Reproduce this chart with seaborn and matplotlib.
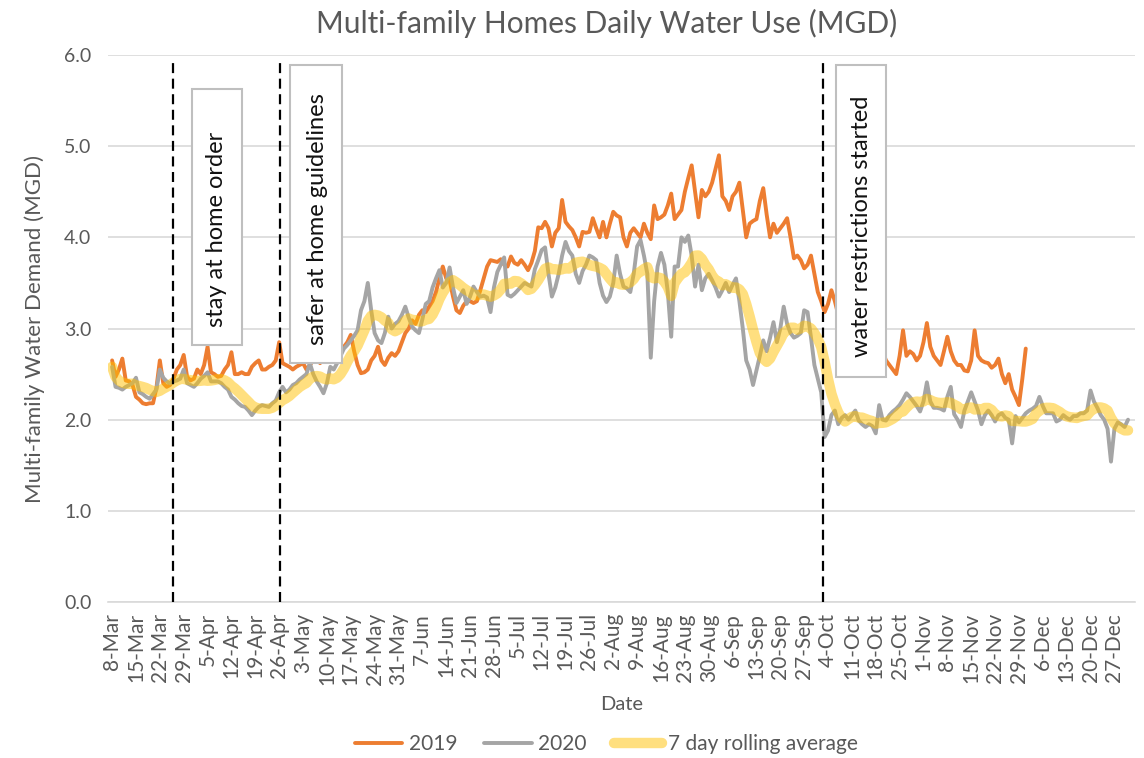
import pandas as pd
import matplotlib
matplotlib.use("Agg")
import matplotlib.pyplot as plt
from matplotlib.patches import Rectangle
import seaborn as sns

# daily values (MGD), both years on the same Mar 8 -> Dec axis
start = "2020-03-08"

mgd_2019 = [
    2.65, 2.47, 2.55, 2.67, 2.43, 2.42, 2.38,
    2.25, 2.22, 2.18, 2.17, 2.18, 2.18, 2.35,
    2.65, 2.40, 2.36, 2.38, 2.45, 2.55, 2.60,
    2.71, 2.47, 2.43, 2.45, 2.55, 2.50, 2.60,
    2.80, 2.52, 2.50, 2.47, 2.48, 2.55, 2.60,
    2.74, 2.50, 2.50, 2.52, 2.50, 2.50, 2.58,
    2.62, 2.65, 2.55, 2.55, 2.58, 2.60, 2.65,
    2.85, 2.62, 2.60, 2.58, 2.55, 2.58, 2.60,
    2.62, 2.55, 2.60, 2.65, 2.70, 2.62, 2.68,
    2.70, 2.65, 2.72, 2.75, 2.78, 2.80, 2.85,
    2.93, 2.75, 2.60, 2.51, 2.52, 2.55, 2.65,
    2.70, 2.80, 2.65, 2.60, 2.68, 2.73, 2.70,
    2.75, 2.85, 2.95, 3.00, 3.09, 3.05, 3.15,
    3.20, 3.18, 3.24, 3.30, 3.40, 3.55, 3.68,
    3.55, 3.53, 3.35, 3.20, 3.17, 3.25, 3.30,
    3.30, 3.28, 3.30, 3.42, 3.55, 3.68, 3.75,
    3.74, 3.73, 3.76, 3.70, 3.68, 3.79, 3.72,
    3.70, 3.75, 3.70, 3.64, 3.72, 3.85, 4.11,
    4.10, 4.17, 4.10, 3.90, 4.05, 4.10, 4.41,
    4.17, 4.12, 4.08, 4.00, 3.90, 4.06, 4.05,
    4.06, 4.21, 4.10, 4.00, 4.17, 4.00, 4.15,
    4.28, 4.24, 4.22, 4.00, 3.90, 4.05, 4.10,
    4.05, 4.00, 4.15, 4.05, 3.98, 4.35, 4.20,
    4.22, 4.25, 4.35, 4.48, 4.20, 4.25, 4.30,
    4.50, 4.65, 4.79, 4.50, 4.22, 4.52, 4.45,
    4.50, 4.60, 4.75, 4.90, 4.45, 4.40, 4.30,
    4.45, 4.50, 4.60, 4.30, 4.00, 4.15, 4.18,
    4.20, 4.40, 4.54, 4.25, 4.00, 4.15, 4.05,
    4.10, 4.15, 4.21, 4.00, 3.77, 3.80, 3.75,
    3.66, 3.70, 3.80, 3.60, 3.40, 3.30, 3.18,
    3.27, 3.42, 3.30, 3.15, 3.05, 2.95, 2.90,
    2.85, 2.80, 2.90, 2.80, 2.75, 2.85, 2.80,
    2.75, 2.80, 2.75, 2.65, 2.60, 2.55, 2.50,
    2.70, 2.98, 2.70, 2.75, 2.72, 2.65, 2.70,
    2.85, 3.06, 2.80, 2.70, 2.65, 2.60, 2.75,
    2.91, 2.75, 2.65, 2.60, 2.60, 2.54, 2.53,
    2.65, 2.98, 2.70, 2.65, 2.63, 2.62, 2.57,
    2.60, 2.67, 2.50, 2.40, 2.50, 2.33, 2.25,
    2.16, 2.45, 2.78,
]

mgd_2020 = [
    2.58, 2.36, 2.35, 2.33, 2.36, 2.38, 2.40,
    2.46, 2.30, 2.28, 2.25, 2.23, 2.28, 2.33,
    2.55, 2.46, 2.42, 2.40, 2.42, 2.43, 2.45,
    2.55, 2.40, 2.38, 2.36, 2.40, 2.45, 2.48,
    2.52, 2.42, 2.42, 2.42, 2.40, 2.36, 2.33,
    2.25, 2.22, 2.18, 2.15, 2.14, 2.10, 2.05,
    2.10, 2.14, 2.16, 2.15, 2.14, 2.18, 2.21,
    2.30, 2.36, 2.30, 2.33, 2.38, 2.40, 2.44,
    2.47, 2.50, 2.62, 2.50, 2.42, 2.36, 2.29,
    2.40, 2.58, 2.55, 2.62, 2.70, 2.78, 2.82,
    2.87, 2.92, 2.98, 3.20, 3.30, 3.50, 3.20,
    2.95, 2.87, 2.84, 2.95, 3.13, 3.00, 3.05,
    3.08, 3.15, 3.24, 3.12, 3.02, 2.98, 2.95,
    3.10, 3.27, 3.30, 3.45, 3.55, 3.64, 3.45,
    3.50, 3.67, 3.45, 3.28, 3.35, 3.42, 3.27,
    3.35, 3.46, 3.40, 3.35, 3.36, 3.34, 3.18,
    3.45, 3.62, 3.70, 3.78, 3.37, 3.35, 3.38,
    3.42, 3.46, 3.50, 3.48, 3.46, 3.65, 3.75,
    3.86, 3.89, 3.60, 3.35, 3.45, 3.60, 3.80,
    3.95, 3.85, 3.80, 3.60, 3.50, 3.63, 3.70,
    3.80, 3.78, 3.75, 3.50, 3.36, 3.29, 3.35,
    3.50, 3.80, 3.60, 3.46, 3.44, 3.40, 3.60,
    3.90, 3.97, 3.80, 3.60, 2.68, 3.30, 3.68,
    3.83, 3.70, 3.40, 2.91, 3.68, 3.68, 4.00,
    3.95, 4.02, 3.80, 3.46, 3.70, 3.42, 3.55,
    3.60, 3.53, 3.45, 3.35, 3.42, 3.50, 3.40,
    3.48, 3.55, 3.30, 3.00, 2.65, 2.55, 2.38,
    2.54, 2.70, 2.87, 2.75, 2.90, 3.07, 2.85,
    3.00, 3.24, 3.05, 2.95, 2.90, 2.92, 2.95,
    3.20, 3.18, 2.90, 2.60, 2.45, 2.30, 1.81,
    1.88, 2.05, 2.10, 1.95, 2.02, 2.05, 2.00,
    2.05, 2.10, 1.99, 1.95, 1.92, 1.95, 1.93,
    1.85, 2.16, 2.00, 1.99, 2.05, 2.09, 2.12,
    2.16, 2.22, 2.29, 2.25, 2.20, 2.15, 2.09,
    2.20, 2.41, 2.20, 2.13, 2.13, 2.12, 2.10,
    2.25, 2.36, 2.06, 2.00, 1.92, 2.10, 2.20,
    2.30, 2.20, 2.10, 1.95, 2.05, 2.10, 2.05,
    1.98, 2.05, 2.07, 2.02, 2.00, 1.74, 2.04,
    1.97, 2.02, 2.07, 2.10, 2.12, 2.15, 2.25,
    2.15, 2.07, 2.07, 2.07, 1.98, 2.00, 2.05,
    2.02, 2.00, 2.04, 2.04, 2.07, 2.07, 2.10,
    2.32, 2.20, 2.13, 2.05, 2.00, 1.90, 1.54,
    1.90, 1.97, 1.95, 1.92, 2.00,
]

event_dates = ["2020-03-26", "2020-04-26 08:00", "2020-10-02 12:00"]
event_labels = ["stay at home order", "safer at home guidelines", "water restrictions started"]

df19 = pd.DataFrame({"date": pd.date_range(start, periods=len(mgd_2019)), "mgd": mgd_2019})
df20 = pd.DataFrame({"date": pd.date_range(start, periods=len(mgd_2020)), "mgd": mgd_2020})
df20["avg"] = df20["mgd"].rolling(7, min_periods=1).mean()

sns.set_style("white")
plt.rcParams["font.family"] = ["Lato", "DejaVu Sans"]
txt = "#595959"
grid_c = "#d9d9d9"

fig = plt.figure(figsize=(11.44, 7.58), dpi=100)
ax = fig.add_axes([0.0944, 0.2058, 0.8976, 0.7216])

sns.lineplot(data=df19, x="date", y="mgd", ax=ax, color="#ed7d31", linewidth=2.8, label="2019")
sns.lineplot(data=df20, x="date", y="mgd", ax=ax, color="#a5a5a5", linewidth=2.8, label="2020")
sns.lineplot(data=df20, x="date", y="avg", ax=ax, color="#ffc000", linewidth=7.5, alpha=0.5,
             label="7 day rolling average", solid_capstyle="round")

ax.set_ylim(0, 6)
ax.set_xlim(pd.Timestamp("2020-03-06 19:00"), pd.Timestamp("2021-01-02"))
ax.set_yticks([0, 1, 2, 3, 4, 5, 6])
ax.set_yticklabels([f"{v:.1f}" for v in range(7)])
ticks = pd.date_range("2020-03-08", "2020-12-27", freq="7D")
ax.set_xticks(ticks)
ax.set_xticklabels([f"{t.day}-{t:%b}" for t in ticks], rotation=90)

ax.grid(axis="y", color=grid_c, linewidth=1.2)
ax.grid(axis="x", visible=False)
for s in ["top", "right", "left"]:
    ax.spines[s].set_visible(False)
ax.spines["bottom"].set_color(grid_c)
ax.spines["bottom"].set_linewidth(1.2)
ax.tick_params(axis="y", length=0, pad=12, labelsize=14, labelcolor=txt)
ax.tick_params(axis="x", length=5, width=1.2, color=grid_c, pad=3, labelsize=15, labelcolor=txt)

for d in event_dates:
    ax.axvline(pd.Timestamp(d), ymin=0, ymax=0.987, color="black", linewidth=1.6,
               dashes=(4.5, 2.5), zorder=4)

# text boxes (axes fraction): left, bottom, width, height, text x, text y
boxes = [
    (0.0818, 0.4698, 0.0487, 0.4680, 0.1061, 0.5027),
    (0.1772, 0.4369, 0.0506, 0.5448, 0.2045, 0.4698),
    (0.7089, 0.4113, 0.0487, 0.5704, 0.7342, 0.4479),
]
for (x0, y0, w, h, tx, ty), lab in zip(boxes, event_labels):
    ax.add_patch(Rectangle((x0, y0), w, h, transform=ax.transAxes, facecolor="white",
                           edgecolor="#bfbfbf", linewidth=1.5, zorder=5))
    ax.text(tx, ty, lab, transform=ax.transAxes, rotation=90, rotation_mode="anchor",
            ha="left", va="center", fontsize=17, color="#111111", zorder=6)

ax.set_xlabel("Date", fontsize=14.5, color=txt, labelpad=8)
ax.set_ylabel("Multi-family Water Demand (MGD)", fontsize=16, color=txt, labelpad=14)
fig.suptitle("Multi-family Homes Daily Water Use (MGD)", x=0.53, y=0.988, fontsize=21.5, color=txt)

handles, labels = ax.get_legend_handles_labels()
ax.get_legend().remove()
fig.legend(handles, labels, loc="lower center", bbox_to_anchor=(0.53, -0.02), ncol=3,
           frameon=False, fontsize=15, handlelength=2.3, columnspacing=1.3,
           handletextpad=0.3, labelcolor=txt)

fig.savefig("out.png", dpi=100)
